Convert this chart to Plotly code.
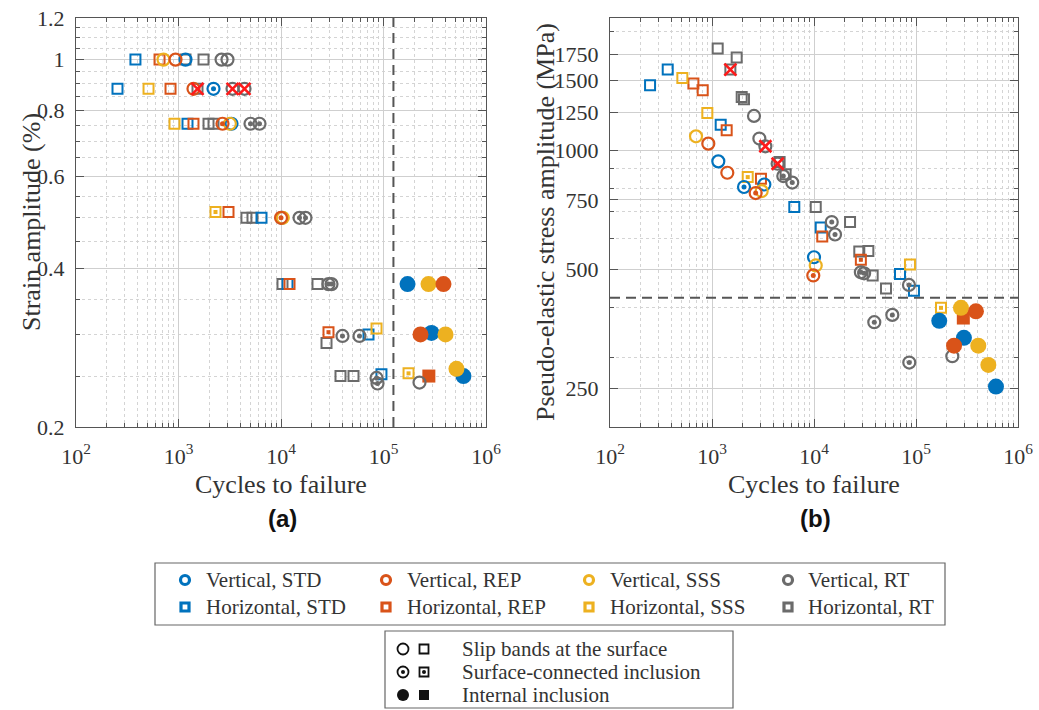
import math
import plotly.graph_objects as go

W, H = 1039, 710

# ---------------- DATA ----------------
# failure type codes: 'S' = slip bands at surface, 'C' = surface-connected inclusion, 'I' = internal inclusion
# ---- panel (a): strain amplitude (%) ----
a_v_std_n = [1170, 2195, 3290, 10200, 171600, 294000, 602500]
a_v_std_y = [1.0, 0.88, 0.755, 0.5, 0.374, 0.302, 0.25]
a_v_std_t = ['S', 'C', 'S', 'S', 'I', 'I', 'I']

a_v_rep_n = [935, 1400, 2687, 10000, 384700, 229600]
a_v_rep_y = [1.0, 0.88, 0.755, 0.5, 0.374, 0.3]
a_v_rep_t = ['S', 'S', 'C', 'C', 'I', 'I']

a_v_sss_n = [714, 3170, 10400, 274700, 402800, 515000]
a_v_sss_y = [1.0, 0.755, 0.5, 0.374, 0.3, 0.258]
a_v_sss_t = ['S', 'S', 'S', 'I', 'I', 'I']

a_v_rt_n = [2630, 3006, 3365, 4406, 5039, 6170, 15150, 17340, 29060, 31100, 39800, 58300, 85500, 87400, 224500]
a_v_rt_y = [1.0, 1.0, 0.88, 0.88, 0.755, 0.755, 0.5, 0.5, 0.374, 0.374, 0.298, 0.298, 0.248, 0.242, 0.243]
a_v_rt_t = ['S', 'S', 'S', 'S', 'C', 'C', 'C', 'C', 'C', 'C', 'C', 'C', 'C', 'C', 'S']

a_h_std_n = [254, 380, 1224, 6453, 11570, 71400, 95500]
a_h_std_y = [0.88, 1.0, 0.755, 0.5, 0.374, 0.3, 0.252]
a_h_std_t = ['S', 'S', 'S', 'S', 'S', 'S', 'S']

a_h_rep_n = [653, 836, 1400, 3075, 12110, 29060, 277000]
a_h_rep_y = [1.0, 0.88, 0.755, 0.513, 0.374, 0.303, 0.25]
a_h_rep_t = ['S', 'S', 'S', 'S', 'S', 'C', 'I']

a_h_sss_n = [510, 914, 2296, 85500, 175500]
a_h_sss_y = [0.88, 0.755, 0.513, 0.308, 0.253]
a_h_sss_t = ['S', 'S', 'C', 'S', 'C']

a_h_rt_n = [1170, 1754, 1532, 1963, 2195, 4600, 5270, 10340, 22700, 27800, 38050, 50970]
a_h_rt_y = [1.0, 1.0, 0.88, 0.755, 0.755, 0.5, 0.5, 0.374, 0.374, 0.289, 0.25, 0.25]
a_h_rt_t = ['S'] * 12

a_x_n = [1532, 3365, 4406]
a_x_y = [0.88, 0.88, 0.88]
a_limit_n = 125000

# ---- panel (b): pseudo-elastic stress amplitude (MPa) ----
b_v_std_n = [1153, 2060, 3260, 10000, 169000, 295000, 608000]
b_v_std_y = [938, 808, 820, 537, 371, 336, 253]
b_v_std_t = ['S', 'C', 'S', 'S', 'I', 'I', 'I']

b_v_rep_n = [920, 1413, 2680, 9840, 387000, 236000]
b_v_rep_y = [1040, 878, 780, 483, 392, 321]
b_v_rep_t = ['S', 'S', 'C', 'C', 'I', 'I']

b_v_sss_n = [697, 3070, 10400, 276000, 408000, 512000]
b_v_sss_y = [1085, 789, 512, 400, 321, 287]
b_v_sss_t = ['S', 'S', 'S', 'I', 'I', 'I']

b_v_rt_n = [2580, 2913, 3335, 4400, 5000, 6120, 14930, 16070, 28800, 31000, 39000, 58600, 85300, 85900, 227000]
b_v_rt_y = [1222, 1071, 1024, 925, 861, 829, 659, 613, 492, 489, 368, 384, 457, 291, 302]
b_v_rt_t = ['S', 'S', 'S', 'S', 'C', 'C', 'C', 'C', 'C', 'C', 'C', 'C', 'C', 'C', 'S']

b_h_std_n = [247, 368, 1217, 6410, 11640, 69700, 95500]
b_h_std_y = [1461, 1600, 1161, 719, 638, 487, 442]
b_h_std_t = ['S', 'S', 'S', 'S', 'S', 'S', 'S']

b_h_rep_n = [657, 811, 1393, 3020, 12050, 28800, 291000]
b_h_rep_y = [1475, 1419, 1124, 848, 606, 529, 377]
b_h_rep_t = ['S', 'S', 'S', 'S', 'S', 'C', 'I']

b_h_sss_n = [512, 900, 2240, 87300, 175800]
b_h_sss_y = [1524, 1243, 856, 515, 400]
b_h_sss_t = ['S', 'S', 'C', 'S', 'C']

b_h_rt_n = [1137, 1746, 1514, 1955, 2060, 4600, 5270, 10400, 22560, 27800, 34100, 37600, 50800]
b_h_rt_y = [1808, 1716, 1600, 1365, 1346, 935, 870, 719, 659, 555, 557, 483, 448]
b_h_rt_t = ['S'] * 13

b_x_n = [1514, 3335, 4400]
b_x_y = [1600, 1024, 925]
b_limit_s = 424

# tick labels
x_ticks = [1e2, 1e3, 1e4, 1e5, 1e6]
x_ticktext = ['10<sup>2</sup>', '10<sup>3</sup>', '10<sup>4</sup>', '10<sup>5</sup>', '10<sup>6</sup>']
a_yticks = [0.2, 0.4, 0.6, 0.8, 1.0, 1.2]
a_yticktext = ['0.2', '0.4', '0.6', '0.8', '1', '1.2']
b_yticks = [250, 500, 750, 1000, 1250, 1500, 1750]
b_yticktext = ['250', '500', '750', '1000', '1250', '1500', '1750']

legend_labels = [['Vertical, STD', 'Vertical, REP', 'Vertical, SSS', 'Vertical, RT'],
                 ['Horizontal, STD', 'Horizontal, REP', 'Horizontal, SSS', 'Horizontal, RT']]
legend2_labels = ['Slip bands at the surface', 'Surface-connected inclusion', 'Internal inclusion']

# ---------------- STYLE ----------------
COL = {'STD': '#0072BD', 'REP': '#D95319', 'SSS': '#EDB120', 'RT': '#6b6b6b'}
SERIF = 'Liberation Serif'
AXC = '#555555'
TXT = '#333333'

fig = go.Figure()


def add_series(n, y, t, shape, color, xa, ya):
    """shape: 'circle' or 'square'"""
    for code in ['S', 'C', 'I']:
        xs = [a for a, c in zip(n, t) if c == code]
        ys = [b for b, c in zip(y, t) if c == code]
        if not xs:
            continue
        if code in ('S', 'C'):
            if shape == 'circle':
                mk = dict(symbol='circle-open', size=12, color=color, line=dict(width=2.2, color=color))
            else:
                mk = dict(symbol='square-open', size=10, color=color, line=dict(width=2, color=color))
            fig.add_trace(go.Scatter(x=xs, y=ys, mode='markers', marker=mk, xaxis=xa, yaxis=ya,
                                     showlegend=False, hoverinfo='skip'))
            if code == 'C':
                dot = dict(symbol='circle' if shape == 'circle' else 'square',
                           size=5 if shape == 'circle' else 4, color=color)
                fig.add_trace(go.Scatter(x=xs, y=ys, mode='markers', marker=dot, xaxis=xa, yaxis=ya,
                                         showlegend=False, hoverinfo='skip'))
        else:
            mk = dict(symbol='circle' if shape == 'circle' else 'square',
                      size=16 if shape == 'circle' else 13, color=color, line=dict(width=0))
            fig.add_trace(go.Scatter(x=xs, y=ys, mode='markers', marker=mk, xaxis=xa, yaxis=ya,
                                     showlegend=False, hoverinfo='skip'))


panel_a = [
    (a_h_rt_n, a_h_rt_y, a_h_rt_t, 'square', 'RT'),
    (a_h_std_n, a_h_std_y, a_h_std_t, 'square', 'STD'),
    (a_h_rep_n, a_h_rep_y, a_h_rep_t, 'square', 'REP'),
    (a_h_sss_n, a_h_sss_y, a_h_sss_t, 'square', 'SSS'),
    (a_v_rt_n, a_v_rt_y, a_v_rt_t, 'circle', 'RT'),
    (a_v_std_n, a_v_std_y, a_v_std_t, 'circle', 'STD'),
    (a_v_sss_n, a_v_sss_y, a_v_sss_t, 'circle', 'SSS'),
    (a_v_rep_n, a_v_rep_y, a_v_rep_t, 'circle', 'REP'),
]
panel_b = [
    (b_h_rt_n, b_h_rt_y, b_h_rt_t, 'square', 'RT'),
    (b_h_std_n, b_h_std_y, b_h_std_t, 'square', 'STD'),
    (b_h_rep_n, b_h_rep_y, b_h_rep_t, 'square', 'REP'),
    (b_h_sss_n, b_h_sss_y, b_h_sss_t, 'square', 'SSS'),
    (b_v_rt_n, b_v_rt_y, b_v_rt_t, 'circle', 'RT'),
    (b_v_std_n, b_v_std_y, b_v_std_t, 'circle', 'STD'),
    (b_v_sss_n, b_v_sss_y, b_v_sss_t, 'circle', 'SSS'),
    (b_v_rep_n, b_v_rep_y, b_v_rep_t, 'circle', 'REP'),
]

# dashed limit lines
fig.add_trace(go.Scatter(x=[a_limit_n, a_limit_n], y=[0.2, 1.2], mode='lines', xaxis='x', yaxis='y',
                         line=dict(color='#555555', width=2, dash='10px,6px'), showlegend=False, hoverinfo='skip'))
fig.add_trace(go.Scatter(x=[100, 1e6], y=[b_limit_s, b_limit_s], mode='lines', xaxis='x2', yaxis='y2',
                         line=dict(color='#555555', width=2, dash='10px,6px'), showlegend=False, hoverinfo='skip'))

for n, y, t, shp, mat in panel_a:
    add_series(n, y, t, shp, COL[mat], 'x', 'y')
for n, y, t, shp, mat in panel_b:
    add_series(n, y, t, shp, COL[mat], 'x2', 'y2')

xmk = dict(symbol='x-thin-open', size=12, color='#FF1A1A', line=dict(width=2.6, color='#FF1A1A'))
fig.add_trace(go.Scatter(x=a_x_n, y=a_x_y, mode='markers', marker=xmk, xaxis='x', yaxis='y',
                         showlegend=False, hoverinfo='skip'))
fig.add_trace(go.Scatter(x=b_x_n, y=b_x_y, mode='markers', marker=xmk, xaxis='x2', yaxis='y2',
                         showlegend=False, hoverinfo='skip'))

# ---------------- LEGEND (overlay axis in pixel units) ----------------
leg_sym_x = [185, 386, 589, 788]
leg_txt_x = [204, 405, 608, 806]
leg_row_y = [580, 607]
mats = ['STD', 'REP', 'SSS', 'RT']
for i, m in enumerate(mats):
    fig.add_trace(go.Scatter(x=[leg_sym_x[i]], y=[leg_row_y[0]], mode='markers', xaxis='x3', yaxis='y3',
                             marker=dict(symbol='circle-open', size=9, color=COL[m], line=dict(width=3.2, color=COL[m])),
                             showlegend=False, hoverinfo='skip'))
    fig.add_trace(go.Scatter(x=[leg_sym_x[i]], y=[leg_row_y[1]], mode='markers', xaxis='x3', yaxis='y3',
                             marker=dict(symbol='square-open', size=8, color=COL[m], line=dict(width=3.2, color=COL[m])),
                             showlegend=False, hoverinfo='skip'))

l2_cx, l2_sx = 403, 424
l2_y = [649, 672, 695]
blk = '#111111'
fig.add_trace(go.Scatter(x=[l2_cx, l2_cx], y=[l2_y[0], l2_y[1]], mode='markers', xaxis='x3', yaxis='y3',
                         marker=dict(symbol='circle-open', size=11, color=blk, line=dict(width=1.8, color=blk)),
                         showlegend=False, hoverinfo='skip'))
fig.add_trace(go.Scatter(x=[l2_sx, l2_sx], y=[l2_y[0], l2_y[1]], mode='markers', xaxis='x3', yaxis='y3',
                         marker=dict(symbol='square-open', size=9, color=blk, line=dict(width=1.8, color=blk)),
                         showlegend=False, hoverinfo='skip'))
fig.add_trace(go.Scatter(x=[l2_cx, l2_sx], y=[l2_y[1], l2_y[1]], mode='markers', xaxis='x3', yaxis='y3',
                         marker=dict(symbol='circle', size=4, color=blk),
                         showlegend=False, hoverinfo='skip'))
fig.add_trace(go.Scatter(x=[l2_cx], y=[l2_y[2]], mode='markers', xaxis='x3', yaxis='y3',
                         marker=dict(symbol='circle', size=12, color=blk),
                         showlegend=False, hoverinfo='skip'))
fig.add_trace(go.Scatter(x=[l2_sx], y=[l2_y[2]], mode='markers', xaxis='x3', yaxis='y3',
                         marker=dict(symbol='square', size=10, color=blk),
                         showlegend=False, hoverinfo='skip'))

annotations = []
for r in range(2):
    for i in range(4):
        annotations.append(dict(x=leg_txt_x[i], y=leg_row_y[r], xref='x3', yref='y3', text=legend_labels[r][i],
                                showarrow=False, xanchor='left', yanchor='middle',
                                font=dict(family=SERIF, size=21, color=TXT)))
for k in range(3):
    annotations.append(dict(x=460, y=l2_y[k], xref='x3', yref='y3', text=legend2_labels[k],
                            showarrow=False, xanchor='left', yanchor='middle',
                            font=dict(family=SERIF, size=21, color=TXT)))

shapes = [
    dict(type='rect', xref='x3', yref='y3', x0=155, x1=945, y0=563, y1=625,
         line=dict(color='#666666', width=1.2)),
    dict(type='rect', xref='x3', yref='y3', x0=385, x1=733, y0=631, y1=708,
         line=dict(color='#666666', width=1.2)),
]


def px(xp):
    return xp / W


def py(yp):
    return 1 - yp / H


def centered(xp, yp, text, font, angle=0):
    return dict(x=px(xp), y=py(yp), xref='paper', yref='paper', text=text, showarrow=False,
                xanchor='center', yanchor='middle', textangle=angle, font=font)


title_font = dict(family=SERIF, size=26, color=TXT)
label_font = dict(family='Liberation Sans', size=24, color='#111111')
annotations += [
    centered(281, 484, 'Cycles to failure', title_font),
    centered(814, 484, 'Cycles to failure', title_font),
    centered(282, 518, '<b>(a)</b>', label_font),
    centered(815, 518, '<b>(b)</b>', label_font),
    centered(31, 222, 'Strain amplitude (%)', title_font, -90),
    centered(545, 222, 'Pseudo-elastic stress amplitude (MPa)', title_font, -90),
]

x_minor = [m * 10 ** k for k in range(2, 6) for m in range(2, 10)]
a_minor = [round(0.25 + 0.05 * i, 2) for i in range(19)]
a_minor = [v for v in a_minor if v not in a_yticks]
b_minor = [300, 400, 600, 700, 800, 900, 2000]

tickfont = dict(family=SERIF, size=22, color=TXT)


def xax(domain, anchor):
    return dict(type='log', range=[2, 6], domain=domain, anchor=anchor, automargin=False,
                tickvals=x_ticks, ticktext=x_ticktext,
                ticks='inside', ticklen=8, tickwidth=1, tickcolor=AXC, showline=True, linecolor=AXC,
                linewidth=1.3, mirror='allticks', showgrid=True, gridcolor='#cfcfcf', gridwidth=1,
                zeroline=False, tickfont=tickfont, ticklabelstandoff=9,
                minor=dict(tickvals=x_minor, ticks='inside', ticklen=4, tickcolor=AXC, showgrid=True,
                           gridcolor='#d4d4d4', griddash='dot', gridwidth=1))


def yax(rng, tv, tt, mv, anchor):
    return dict(type='log', range=rng, domain=[1 - 427 / H, 1 - 18 / H], anchor=anchor, automargin=False,
                tickvals=tv, ticktext=tt,
                ticks='inside', ticklen=8, tickwidth=1, tickcolor=AXC, showline=True, linecolor=AXC,
                linewidth=1.3, mirror='allticks', showgrid=True, gridcolor='#cfcfcf', gridwidth=1,
                zeroline=False, tickfont=tickfont, ticklabelstandoff=6,
                minor=dict(tickvals=mv, ticks='inside', ticklen=4, tickcolor=AXC, showgrid=True,
                           gridcolor='#d4d4d4', griddash='dot', gridwidth=1))


fig.update_layout(
    width=W, height=H,
    margin=dict(l=0, r=0, t=0, b=0, pad=0, autoexpand=False),
    paper_bgcolor='white', plot_bgcolor='rgba(0,0,0,0)',
    xaxis=xax([76 / W, 486 / W], 'y'),
    yaxis=yax([math.log10(0.2), math.log10(1.2)], a_yticks, a_yticktext, a_minor, 'x'),
    xaxis2=xax([610 / W, 1018 / W], 'y2'),
    yaxis2=yax([math.log10(200), math.log10(2160)], b_yticks, b_yticktext, b_minor, 'x2'),
    xaxis3=dict(domain=[0, 1], range=[0, W], visible=False, anchor='y3', fixedrange=True, automargin=False),
    yaxis3=dict(domain=[0, 1], range=[H, 0], visible=False, anchor='x3', fixedrange=True, automargin=False),
    annotations=annotations,
    shapes=shapes,
    showlegend=False,
)

fig.write_html('out.html')
